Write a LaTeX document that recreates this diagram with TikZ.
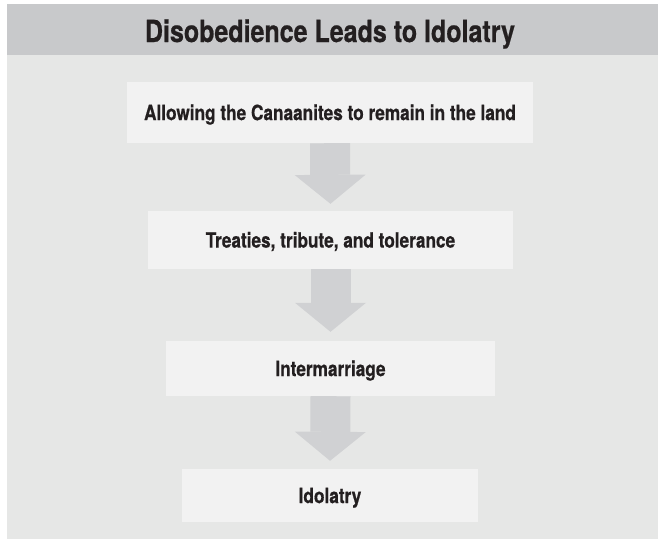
\documentclass[tikz,border=0pt]{standalone}
\usepackage{fontspec}
\setmainfont{TeX Gyre Heros}[FakeStretch=0.82, BoldFeatures={FakeBold=0.6}]
\usetikzlibrary{arrows.meta}
\definecolor{hdgray}{HTML}{C8C9CB}
\definecolor{bggray}{HTML}{E6E7E6}
\definecolor{bxgray}{HTML}{F2F2F2}
\definecolor{argray}{HTML}{D0D1D3}
\definecolor{ink}{HTML}{231F20}
\begin{document}
\begin{tikzpicture}[x=1pt, y=-1pt,
hd/.style={fill=hdgray},
bg/.style={fill=bggray},
tt/.style={text=ink, font=\bfseries\fontsize{30.5}{34}\selectfont, text height=22pt, text depth=0pt, inner sep=0pt},
bx/.style={fill=bxgray, text=ink, font=\bfseries\fontsize{21}{24}\selectfont, text height=15.2pt, text depth=0pt, inner sep=0pt},
ar/.style={draw=argray, line width=40pt, -{Triangle[width=71pt, length=29pt, line width=0pt]}, shorten >=7pt},
]
\useasboundingbox (0,0) rectangle (658,539);
\fill[white] (0,0) rectangle (658,539);
\fill[bg] (7,4) rectangle (658,539);
\fill[hd] (7,4) rectangle (658,55);
\node[tt] (title) at (330,31) {Disobedience Leads to Idolatry};
% the four steps
\node[bx, minimum width=406pt, minimum height=61pt] (land) at (330,112.5) {Allowing the Canaanites to remain in the land};
\node[bx, minimum width=365pt, minimum height=58pt] (treaty) at (330.5,240) {Treaties, tribute, and tolerance};
\node[bx, minimum width=329pt, minimum height=55pt] (marry) at (330.5,368.5) {Intermarriage};
\node[bx, minimum width=296pt, minimum height=53pt] (idol) at (330,495.5) {Idolatry};
\draw[ar] (land.south) -- (treaty.north);
\draw[ar, shorten >=9pt] (treaty.south) -- (marry.north);
\draw[ar, shorten >=8pt] (marry.south) -- (idol.north);
\end{tikzpicture}
\end{document}
